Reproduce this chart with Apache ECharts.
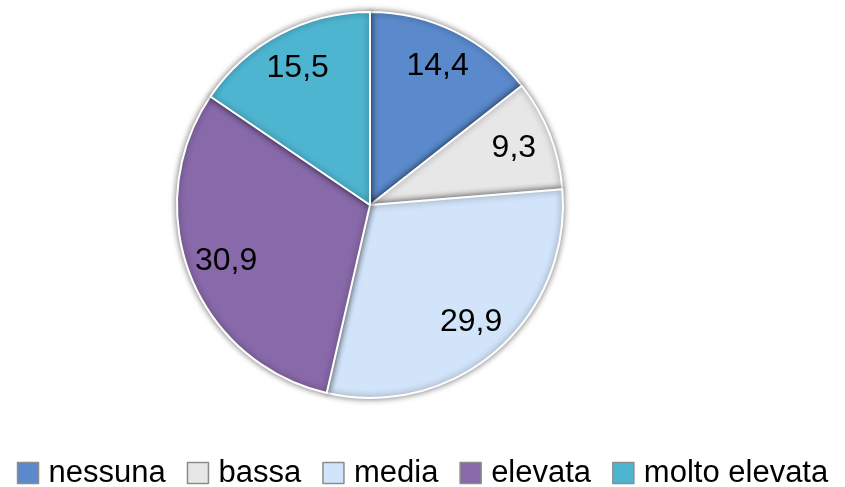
<!DOCTYPE html>
<html>
<head>
<meta charset="utf-8">
<script src="https://cdn.jsdelivr.net/npm/echarts@6/dist/echarts.min.js"></script>
<style>
html,body{margin:0;padding:0;background:#fff;}
#chart{width:845px;height:487px;}
</style>
</head>
<body>
<div id="chart"></div>
<script>
var categories = ['nessuna', 'bassa', 'media', 'elevata', 'molto elevata'];
var values = [14.4, 9.3, 29.9, 30.9, 15.5];
var colors = ['#5A8ACB', '#E7E7E7', '#D2E4FA', '#8869AA', '#4EB5D1'];

var chart = echarts.init(document.getElementById('chart'));
var pieData = categories.map(function (c, i) {
  return { name: c, value: values[i], itemStyle: { color: colors[i] } };
});
var labelData = categories.map(function (c, i) {
  return { name: c, value: values[i] };
});
chart.setOption({
  animation: false,
  legend: {
    data: categories,
    left: 'center',
    top: 451,
    icon: 'rect',
    itemWidth: 21,
    itemHeight: 21,
    itemGap: 21,
    itemStyle: { borderColor: '#8c8c8c', borderWidth: 1.5 },
    textStyle: {
      fontFamily: 'Liberation Sans',
      fontSize: 31,
      lineHeight: 34,
      color: '#000',
      padding: [0, 0, 0, 5]
    }
  },
  series: [
    {
      type: 'pie',
      center: [370, 205],
      radius: [0, 193],
      startAngle: 90,
      clockwise: true,
      label: { show: false },
      labelLine: { show: false },
      itemStyle: {
        borderColor: '#ffffff',
        borderWidth: 2,
        shadowBlur: 6,
        shadowColor: 'rgba(0,0,0,0.5)'
      },
      emphasis: { disabled: true },
      data: pieData
    },
    {
      type: 'pie',
      center: [370, 205],
      radius: [110, 193],
      startAngle: 90,
      clockwise: true,
      silent: true,
      legendHoverLink: false,
      itemStyle: { color: 'rgba(0,0,0,0)' },
      label: {
        show: true,
        position: 'inside',
        fontFamily: 'Liberation Sans',
        fontSize: 32,
        color: '#000',
        formatter: function (p) { return String(p.value).replace('.', ','); }
      },
      labelLine: { show: false },
      emphasis: { disabled: true },
      data: labelData
    }
  ]
});
</script>
</body>
</html>
